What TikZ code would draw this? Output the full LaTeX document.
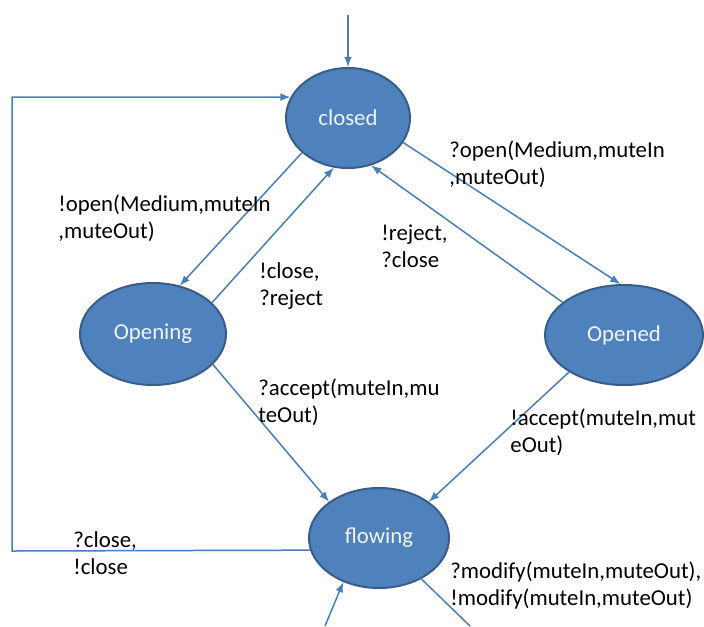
\documentclass[tikz,border=0pt]{standalone}
\usepackage{fontspec}
\setmainfont{Carlito}
\usetikzlibrary{shapes.geometric}
\definecolor{stfill}{HTML}{4F81BD}
\definecolor{stline}{HTML}{385D8A}
\definecolor{arc}{HTML}{4A7EBB}

\begin{document}
\begin{tikzpicture}[>=latex,x=0.5pt,y=-0.5pt,
    st/.style={ellipse,draw=stline,line width=1pt,fill=stfill,inner sep=0pt,
        text=white!92!stfill,font=\fontsize{11.4}{13.5}\selectfont},
    lbl/.style={anchor=north west,inner sep=0pt,align=left,
        font=\fontsize{11.4}{13.5}\selectfont},
    tr/.style={->,draw=arc,line width=0.75pt}]

    \useasboundingbox (0,0) rectangle (704,626);

    \path
    (348,118) node[st,minimum width=62pt,minimum height=50pt] (cl) {closed}
    (153,334) node[st,minimum width=73pt,minimum height=51pt] (opg) {Opening}
    (624,335) node[st,minimum width=79pt,minimum height=50pt] (opd) {Opened}
    (379,538) node[st,minimum width=70pt,minimum height=50pt] (fl) {flowing};

    \coordinate (init) at (348,15);
    \coordinate (lc) at (12,551);
    \coordinate (inb) at (325,626);
    \coordinate (outb) at (470,626);

\draw[tr] (init) -- (cl);
\draw[tr] (fl.190) -- (lc) |- (cl.160);
\draw[tr] (cl.217) -- (opg.61);
\draw[tr] (opg.28) -- (cl.254);
\draw[tr] (cl.336) -- (opd.94);
\draw[tr] (opd.152) -- (cl.296);
\draw[tr] (opg.333) -- (fl.144);
\draw[tr] (opd.214) -- (fl.36);
\draw[tr] (inb) -- (fl.231);
\draw[draw=arc,line width=0.75pt] (fl.316) -- (outb);

    \node[lbl] (lopen) at (58,194) {!open(Medium,muteIn\\,muteOut)};
    \node[lbl] (lclrej) at (259,262) {!close,\\?reject};
    \node[lbl] (lrejcl) at (381,224) {!reject,\\?close};
    \node[lbl] (lqopen) at (449,140) {?open(Medium,muteIn\\,muteOut)};
    \node[lbl] (lqacc) at (258,378) {?accept(muteIn,mu\\teOut)};
    \node[lbl] (lacc) at (510,408) {!accept(muteIn,mut\\eOut)};
    \node[lbl] (lclose) at (73,531) {?close,\\!close};
    \node[lbl] (lmod) at (450,561) {?modify(muteIn,muteOut),\\!modify(muteIn,muteOut)};

\end{tikzpicture}
\end{document}
